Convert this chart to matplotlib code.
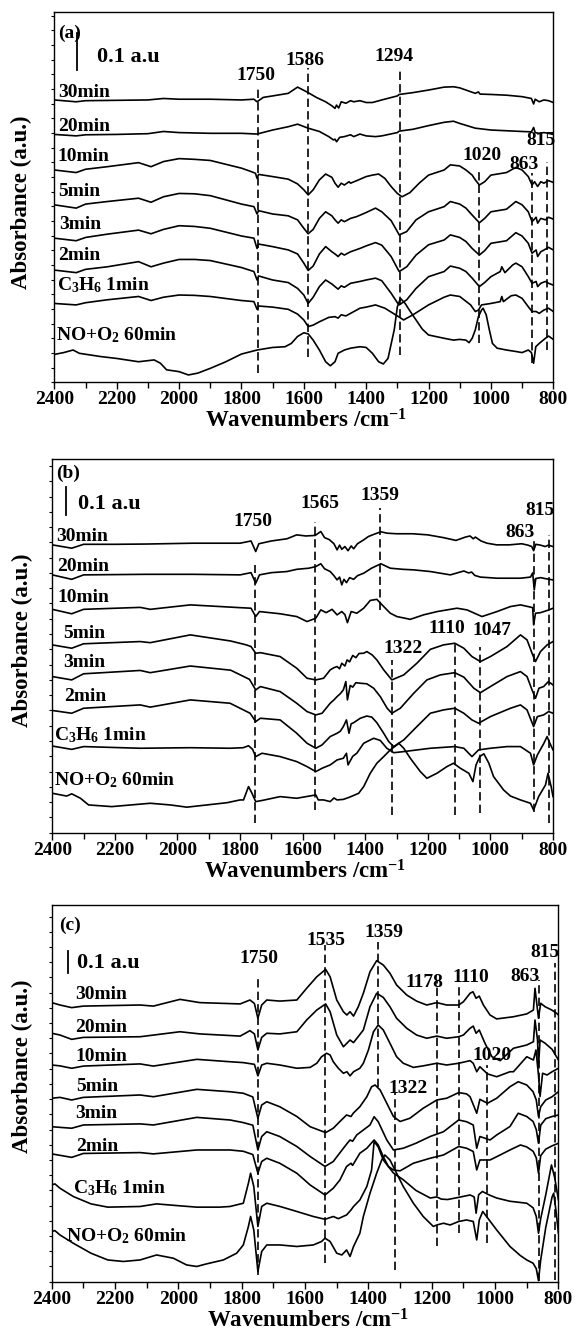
import matplotlib
matplotlib.use("Agg")
import matplotlib.pyplot as plt
from matplotlib.ticker import MultipleLocator

plt.rcParams['font.family'] = ['Liberation Serif', 'DejaVu Serif']
plt.rcParams['font.weight'] = 'bold'
plt.rcParams['mathtext.fontset'] = 'custom'
plt.rcParams['mathtext.rm'] = 'Liberation Serif:bold'
plt.rcParams['mathtext.it'] = 'Liberation Serif:bold'
plt.rcParams['mathtext.bf'] = 'Liberation Serif:bold'
plt.rcParams['axes.linewidth'] = 1.0

# spectra, top to bottom; each point = (wavenumber cm-1, absorbance in mAU, offset included)
names = ['30min', '20min', '10min', '5min', '3min', '2min',
         'C$_3$H$_6$ 1min', 'NO+O$_2$ 60min']

# ---------------- panel (a) ----------------
a_30 = [(2400,770),(2330,765),(2300,768),(2200,769),(2100,770),(2050,774),(2000,772),(1900,772),(1800,770),(1760,772),(1750,765),(1730,777),(1700,781),(1650,788),(1620,805),(1586,790),(1560,777),(1530,765),(1510,754),(1500,747),(1495,756),(1488,748),(1480,765),(1465,761),(1450,768),(1440,765),(1420,768),(1400,763),(1380,763),(1350,770),(1300,781),(1294,785),(1250,790),(1200,797),(1150,805),(1120,806),(1100,803),(1050,788),(1040,792),(1035,786),(1000,785),(950,783),(900,779),(870,774),(863,759),(858,772),(845,765),(830,770),(815,768),(800,763)]
a_20 = [(2400,676),(2330,672),(2300,675),(2200,676),(2100,678),(2050,684),(2000,681),(1900,679),(1800,679),(1750,677),(1700,688),(1650,697),(1620,704),(1586,693),(1550,684),(1520,670),(1505,661),(1500,663),(1495,656),(1485,668),(1470,670),(1450,675),(1440,670),(1420,677),(1400,672),(1370,670),(1350,672),(1300,681),(1294,685),(1250,690),(1200,700),(1150,709),(1120,712),(1100,706),(1050,693),(1000,688),(950,686),(900,684),(870,683),(863,695),(858,681),(845,679),(830,681),(815,679),(800,676)]
a_10 = [(2400,579),(2330,572),(2300,581),(2230,588),(2130,599),(2090,588),(2050,602),(2000,610),(1950,608),(1900,605),(1800,584),(1770,575),(1755,570),(1750,556),(1745,567),(1700,561),(1650,554),(1620,541),(1600,525),(1586,511),(1570,525),(1550,552),(1530,568),(1510,559),(1500,543),(1490,532),(1480,543),(1470,538),(1455,547),(1450,543),(1430,550),(1400,561),(1380,565),(1360,568),(1340,556),(1320,534),(1300,515),(1285,506),(1260,517),(1230,543),(1200,565),(1150,579),(1130,593),(1100,590),(1080,579),(1060,565),(1050,552),(1037,538),(1020,547),(1000,565),(950,572),(920,586),(900,579),(880,561),(868,538),(860,547),(850,534),(840,547),(830,543),(815,550),(800,545)]
a_5 = [(2400,484),(2330,475),(2300,486),(2230,493),(2130,502),(2090,491),(2050,506),(2000,515),(1950,514),(1900,509),(1800,486),(1760,479),(1750,459),(1745,468),(1700,459),(1650,454),(1620,443),(1600,420),(1586,405),(1570,417),(1550,447),(1530,465),(1510,454),(1500,443),(1490,434),(1480,443),(1470,438),(1450,447),(1430,452),(1400,463),(1370,475),(1350,465),(1320,441),(1300,411),(1294,402),(1270,411),(1240,443),(1200,465),(1150,479),(1130,493),(1100,486),(1080,475),(1060,456),(1037,435),(1020,447),(1000,465),(950,472),(920,493),(900,484),(880,465),(868,438),(855,450),(850,434),(840,447),(825,443),(815,450),(800,445)]
a_3 = [(2400,393),(2330,386),(2300,395),(2230,404),(2130,415),(2090,405),(2050,417),(2000,427),(1950,425),(1900,420),(1800,399),(1760,393),(1750,365),(1745,377),(1700,370),(1650,361),(1620,350),(1600,325),(1586,305),(1570,317),(1550,350),(1530,370),(1510,356),(1500,350),(1490,343),(1480,352),(1470,347),(1450,356),(1420,365),(1400,372),(1370,381),(1350,374),(1320,343),(1300,311),(1294,302),(1270,315),(1240,347),(1200,375),(1150,388),(1130,402),(1100,395),(1080,384),(1060,365),(1037,347),(1020,359),(1000,379),(950,386),(920,408),(900,399),(880,379),(868,352),(855,361),(850,343),(840,356),(825,363),(815,368),(800,361)]
a_2 = [(2400,306),(2330,299),(2300,308),(2230,315),(2130,329),(2090,315),(2050,325),(2000,335),(1950,335),(1900,332),(1800,313),(1760,302),(1750,279),(1745,290),(1700,279),(1650,272),(1620,256),(1600,238),(1586,215),(1570,232),(1550,261),(1530,279),(1510,268),(1500,261),(1490,254),(1480,263),(1470,259),(1450,270),(1420,275),(1400,279),(1370,284),(1350,277),(1320,243),(1300,217),(1294,211),(1270,225),(1240,256),(1200,288),(1150,302),(1130,317),(1100,311),(1080,302),(1060,284),(1037,261),(1020,272),(1000,288),(970,302),(965,315),(955,299),(930,320),(920,325),(900,315),(880,288),(868,270),(855,275),(850,261),(840,270),(825,275),(815,270),(800,265)]
a_c3 = [(2400,215),(2330,211),(2300,217),(2230,225),(2130,234),(2090,223),(2050,232),(2000,238),(1950,237),(1900,234),(1800,223),(1760,220),(1750,199),(1745,208),(1700,205),(1650,199),(1620,186),(1600,170),(1586,152),(1570,156),(1550,165),(1520,177),(1500,179),(1490,175),(1480,184),(1465,181),(1450,188),(1420,202),(1400,205),(1370,211),(1340,202),(1300,181),(1280,170),(1250,184),(1200,211),(1150,232),(1130,238),(1100,234),(1065,211),(1050,193),(1040,197),(1030,211),(1000,215),(970,220),(965,234),(960,220),(935,236),(920,238),(900,229),(880,206),(868,193),(855,193),(845,188),(830,197),(815,202),(800,193)]
a_no = [(2400,76),(2370,81),(2340,88),(2320,79),(2250,70),(2200,65),(2130,56),(2100,59),(2080,61),(2060,52),(2040,34),(2000,29),(1970,20),(1940,25),(1900,38),(1850,56),(1800,77),(1750,88),(1700,95),(1660,97),(1640,106),(1620,125),(1600,135),(1586,132),(1570,115),(1550,88),(1530,56),(1515,45),(1500,56),(1490,79),(1470,88),(1450,93),(1420,97),(1400,95),(1380,79),(1360,56),(1345,50),(1330,65),(1310,143),(1300,206),(1290,229),(1275,215),(1260,195),(1240,170),(1220,145),(1200,129),(1150,120),(1120,115),(1100,117),(1080,115),(1070,108),(1060,120),(1050,143),(1040,179),(1030,197),(1025,202),(1015,184),(1005,143),(995,106),(980,93),(950,88),(920,84),(900,81),(880,88),(870,81),(863,52),(856,97),(845,106),(825,120),(815,126),(800,117)]
a_peaks = ['1750', '1586', '1294', '1020', '863', '815']

# ---------------- panel (b) ----------------
b_30 = [(2400,1036),(2338,1024),(2300,1038),(2200,1038),(2100,1039),(1950,1042),(1800,1042),(1765,1050),(1750,1012),(1740,1040),(1700,1050),(1650,1058),(1619,1072),(1590,1068),(1560,1070),(1542,1084),(1530,1062),(1515,1055),(1500,1040),(1490,1018),(1482,1035),(1475,1020),(1465,1030),(1455,1015),(1445,1032),(1437,1022),(1425,1040),(1405,1054),(1390,1066),(1370,1075),(1350,1083),(1330,1078),(1300,1076),(1250,1076),(1200,1072),(1150,1062),(1110,1052),(1080,1064),(1065,1068),(1055,1058),(1048,1064),(1030,1050),(1011,1042),(980,1036),(940,1036),(900,1040),(880,1035),(868,1030),(862,1015),(855,1038),(840,1035),(825,1030),(815,1035),(800,1030)]
b_20 = [(2400,928),(2338,912),(2300,928),(2100,930),(1950,930),(1800,928),(1765,936),(1750,898),(1738,928),(1700,936),(1650,940),(1619,948),(1580,952),(1558,958),(1542,968),(1530,950),(1512,940),(1500,925),(1490,910),(1482,920),(1475,892),(1468,912),(1460,900),(1450,918),(1437,912),(1425,925),(1405,934),(1380,952),(1350,968),(1320,952),(1280,948),(1245,946),(1192,940),(1128,928),(1085,942),(1070,935),(1060,938),(1050,926),(1032,920),(979,916),(936,916),(904,916),(872,920),(865,935),(860,874),(855,915),(840,918),(813,912),(800,910)]
b_10 = [(2400,804),(2338,788),(2300,804),(2119,811),(2087,804),(1959,820),(1800,810),(1765,808),(1750,778),(1738,796),(1672,788),(1619,778),(1586,760),(1558,772),(1542,802),(1525,792),(1506,804),(1490,784),(1475,796),(1465,785),(1457,756),(1445,796),(1427,790),(1405,808),(1384,836),(1363,840),(1341,814),(1320,790),(1299,778),(1256,768),(1214,784),(1170,796),(1107,808),(1075,802),(1027,778),(979,796),(936,814),(904,820),(872,812),(865,810),(862,748),(856,790),(840,792),(813,802),(800,808)]
b_5 = [(2400,676),(2338,664),(2300,680),(2119,688),(2087,684),(1959,712),(1830,690),(1780,676),(1765,670),(1750,646),(1735,648),(1672,634),(1619,592),(1586,556),(1558,550),(1533,556),(1512,586),(1500,594),(1490,598),(1482,590),(1475,610),(1465,600),(1458,622),(1450,615),(1440,638),(1430,630),(1420,645),(1405,646),(1395,652),(1378,640),(1363,622),(1341,586),(1315,550),(1277,568),(1235,610),(1192,660),(1150,676),(1114,682),(1085,664),(1059,634),(1032,616),(1000,634),(947,670),(904,712),(883,694),(867,646),(856,616),(840,652),(819,676),(800,688)]
b_3 = [(2400,562),(2338,550),(2300,572),(2119,584),(2087,576),(1959,600),(1830,585),(1770,552),(1750,514),(1735,526),(1672,508),(1619,466),(1586,436),(1558,424),(1538,430),(1512,466),(1500,478),(1490,490),(1480,500),(1470,514),(1462,544),(1457,478),(1448,530),(1440,524),(1430,540),(1416,538),(1395,536),(1373,520),(1352,490),(1330,448),(1315,430),(1288,448),(1245,502),(1203,550),(1160,568),(1114,576),(1085,560),(1053,520),(1032,504),(1000,526),(947,562),(904,580),(883,562),(867,514),(856,484),(845,520),(830,526),(815,544),(800,532)]
b_2 = [(2400,440),(2338,430),(2300,448),(2119,460),(2087,452),(1959,478),(1832,466),(1768,430),(1750,400),(1735,412),(1672,406),(1619,358),(1586,322),(1558,304),(1538,316),(1512,346),(1490,358),(1480,365),(1470,382),(1460,406),(1452,358),(1445,392),(1437,396),(1416,412),(1395,420),(1379,416),(1363,396),(1341,358),(1325,328),(1309,310),(1277,334),(1235,382),(1192,430),(1150,442),(1114,448),(1085,430),(1059,406),(1038,394),(1000,418),(936,448),(904,460),(883,442),(862,382),(850,418),(830,424),(814,436),(800,430)]
b_c3 = [(2400,312),(2338,300),(2300,310),(2119,304),(1959,306),(1832,304),(1790,306),(1773,313),(1760,300),(1750,274),(1730,286),(1672,274),(1619,256),(1586,238),(1558,220),(1538,232),(1512,244),(1490,262),(1470,268),(1460,286),(1455,244),(1440,275),(1427,286),(1405,322),(1373,340),(1352,332),(1331,304),(1309,288),(1277,292),(1192,304),(1114,310),(1085,304),(1059,274),(1038,298),(1000,304),(947,310),(904,310),(872,286),(862,244),(850,280),(830,320),(819,346),(810,322),(800,298)]
b_no = [(2400,142),(2354,132),(2338,140),(2310,124),(2284,100),(2210,94),(2087,106),(2023,100),(1970,92),(1906,100),(1842,108),(1800,118),(1789,118),(1773,166),(1762,142),(1750,112),(1730,116),(1672,130),(1619,124),(1558,136),(1550,118),(1533,118),(1512,112),(1500,125),(1490,118),(1470,120),(1450,128),(1421,142),(1405,166),(1384,214),(1363,250),(1341,274),(1320,298),(1299,316),(1293,322),(1277,304),(1256,268),(1224,220),(1203,196),(1171,214),(1139,238),(1118,250),(1096,232),(1069,214),(1056,184),(1046,244),(1034,274),(1021,284),(1005,250),(990,202),(958,154),(936,132),(904,118),(872,106),(862,82),(846,130),(824,172),(816,214),(806,166),(800,130)]
b_peaks = ['1750', '1565', '1359', '1322', '1110', '1047', '863', '815']

# ---------------- panel (c) ----------------
c_30 = [(2400,1284),(2374,1273),(2337,1261),(2300,1268),(2121,1273),(2079,1268),(1995,1299),(1932,1284),(1805,1278),(1774,1296),(1760,1280),(1749,1212),(1737,1273),(1721,1296),(1680,1291),(1626,1296),(1595,1350),(1563,1403),(1535,1437),(1521,1403),(1500,1296),(1479,1242),(1468,1227),(1458,1242),(1447,1222),(1432,1265),(1416,1327),(1395,1426),(1374,1477),(1353,1457),(1332,1419),(1311,1365),(1279,1319),(1248,1291),(1216,1273),(1184,1284),(1153,1273),(1115,1273),(1100,1288),(1079,1327),(1070,1334),(1060,1304),(1050,1314),(1037,1273),(1016,1227),(995,1209),(942,1219),(900,1232),(879,1250),(874,1350),(863,1212),(856,1281),(842,1265),(821,1250),(806,1235),(800,1227)]
c_20 = [(2400,1143),(2374,1135),(2337,1115),(2300,1124),(2121,1127),(1995,1150),(1932,1140),(1805,1130),(1774,1155),(1760,1140),(1749,1066),(1737,1124),(1721,1143),(1680,1140),(1626,1150),(1595,1204),(1563,1250),(1535,1278),(1521,1242),(1500,1135),(1479,1081),(1468,1097),(1458,1112),(1447,1100),(1416,1158),(1395,1265),(1374,1327),(1353,1308),(1332,1265),(1311,1212),(1279,1166),(1248,1135),(1216,1120),(1184,1130),(1153,1120),(1115,1127),(1100,1135),(1079,1166),(1069,1176),(1060,1143),(1050,1158),(1032,1097),(1010,1035),(984,1017),(942,1074),(900,1089),(879,1104),(874,1204),(866,1112),(863,990),(858,1112),(842,1097),(820,1069),(800,1020)]
c_10 = [(2400,997),(2374,993),(2337,982),(2300,992),(2121,1002),(2079,992),(1942,1023),(1837,1012),(1795,1008),(1760,1000),(1749,947),(1737,997),(1721,1005),(1680,997),(1626,982),(1584,986),(1563,1005),(1548,1035),(1532,1051),(1521,1043),(1511,1012),(1495,982),(1479,959),(1468,966),(1458,947),(1447,966),(1427,982),(1416,1005),(1400,1066),(1384,1150),(1369,1181),(1353,1158),(1332,1097),(1311,1035),(1290,1005),(1258,986),(1227,993),(1184,1005),(1153,997),(1115,1005),(1079,1017),(1069,1005),(1058,966),(1048,989),(1024,956),(995,943),(953,966),(942,966),(900,1035),(879,1020),(871,1066),(863,951),(858,852),(850,959),(836,951),(820,966),(800,982)]
c_5 = [(2400,844),(2374,848),(2337,836),(2300,848),(2121,859),(2079,851),(1942,885),(1837,874),(1795,867),(1765,850),(1749,752),(1737,813),(1721,828),(1680,805),(1626,760),(1584,713),(1535,686),(1511,706),(1490,737),(1469,767),(1455,760),(1448,775),(1427,805),(1405,851),(1390,897),(1379,905),(1363,882),(1342,821),(1321,760),(1300,737),(1269,752),(1227,798),(1184,836),(1153,844),(1115,870),(1090,864),(1079,851),(1058,775),(1048,839),(1024,821),(995,844),(953,897),(927,920),(900,905),(880,874),(870,836),(863,760),(856,805),(840,836),(820,851),(800,874)]
c_3 = [(2400,713),(2337,706),(2300,721),(2121,726),(2079,721),(1942,756),(1837,744),(1795,732),(1765,720),(1749,606),(1737,668),(1721,690),(1680,668),(1626,622),(1584,576),(1537,530),(1511,553),(1479,614),(1465,640),(1458,652),(1450,646),(1437,675),(1416,698),(1395,721),(1382,759),(1369,736),(1342,652),(1321,606),(1290,614),(1250,637),(1205,668),(1163,690),(1115,744),(1090,736),(1069,721),(1058,614),(1048,668),(1016,652),(995,675),(953,714),(927,775),(900,760),(880,737),(870,700),(863,637),(856,720),(840,750),(820,760),(800,767)]
c_2 = [(2400,588),(2337,572),(2300,590),(2121,594),(2079,588),(1942,606),(1837,606),(1795,600),(1765,585),(1749,499),(1737,553),(1721,568),(1680,545),(1626,499),(1584,445),(1537,399),(1511,430),(1490,468),(1469,530),(1455,545),(1450,535),(1427,591),(1405,614),(1382,652),(1369,629),(1353,575),(1337,530),(1321,514),(1300,510),(1258,545),(1205,568),(1163,583),(1115,622),(1090,614),(1069,599),(1058,514),(1048,560),(1016,560),(995,575),(953,606),(920,629),(900,620),(880,600),(870,570),(863,499),(856,580),(840,610),(820,625),(800,637)]
c_c3 = [(2400,445),(2390,450),(2374,430),(2332,392),(2276,358),(2223,343),(2121,346),(2069,358),(1995,349),(1942,343),(1870,343),(1837,346),(1795,361),(1779,453),(1772,499),(1762,438),(1749,254),(1737,346),(1721,361),(1679,346),(1626,323),(1574,300),(1537,287),(1511,300),(1495,290),(1480,300),(1469,307),(1455,330),(1447,346),(1427,376),(1405,438),(1390,514),(1382,645),(1369,620),(1353,560),(1337,530),(1321,500),(1290,469),(1250,420),(1205,385),(1184,390),(1170,380),(1150,378),(1115,388),(1079,399),(1066,390),(1060,315),(1052,400),(1040,415),(1020,400),(995,385),(953,370),(900,361),(880,340),(870,300),(863,223),(856,290),(840,400),(822,537),(812,480),(800,376)]
c_no = [(2400,231),(2390,235),(2374,215),(2332,177),(2276,131),(2223,100),(2174,93),(2121,100),(2069,123),(2016,108),(1974,77),(1942,70),(1911,82),(1858,100),(1816,131),(1795,169),(1779,254),(1772,300),(1762,238),(1749,47),(1737,139),(1721,169),(1679,169),(1626,162),(1574,169),(1548,185),(1537,200),(1521,185),(1500,131),(1484,123),(1469,146),(1458,116),(1447,162),(1427,223),(1416,300),(1395,407),(1374,499),(1358,560),(1348,583),(1332,560),(1311,499),(1290,438),(1258,361),(1227,300),(1195,254),(1184,261),(1163,269),(1142,261),(1115,277),(1090,284),(1069,277),(1058,192),(1050,284),(1039,323),(1027,300),(995,238),(953,162),(920,120),(900,100),(880,85),(870,60),(863,5),(856,100),(840,250),(820,390),(815,407),(808,330),(800,223)]
c_peaks = ['1750', '1535', '1359', '1322', '1178', '1110', '1020', '863', '815']

# ---------------- layout ----------------
# peak marks: (line wn, line bottom, line top, text wn, text y) in data units
a_marks = [(1748,25,805,1753,841),(1588,69,857,1596,882),(1292,74,857,1311,893),
           (1038,107,584,1030,625),(868,53,571,893,600),(819,88,601,840,664)]
b_marks = [(1751,34,964,1759,1126),(1560,82,1120,1546,1192),(1352,802,1168,1353,1222),
           (1315,64,622,1280,670),(1114,64,682,1139,742),(1034,70,670,995,736),
           (862,76,1066,905,1086),(812,34,1072,842,1168)]
c_marks = [(1749,31,1411,1745,1495),(1536,85,1549,1533,1580),(1370,898,1564,1351,1618),
           (1316,54,867,1275,898),(1185,162,1388,1223,1388),(1113,223,1365,1078,1411),
           (1026,177,997,1009,1051),(860,3,1388,904,1412),(812,8,1465,842,1526)]

a_name_pos = [(2388,797),(2388,702),(2390,620),(2388,527),(2385,437),(2388,350),(2390,272),(2395,134)]
b_name_pos = [(2386,1075),(2386,964),(2384,852),(2365,724),(2365,619),(2362,496),(2396,359),(2396,197)]
c_name_pos = [(2326,1329),(2326,1181),(2326,1047),(2322,905),(2326,782),(2322,633),(2332,439),(2355,219)]

panels = [
    dict(tag='(a)', rect=[0.0944, 0.7145, 0.8661, 0.2763], ymax=1009, ystep=40,
         curves=[a_30, a_20, a_10, a_5, a_3, a_2, a_c3, a_no], peaks=a_peaks, marks=a_marks,
         name_pos=a_name_pos, tag_pos=(2388, 956), bar=(2327, 852, 952), note_pos=(2262, 893),
         ylab=(-0.065, 0.486)),
    dict(tag='(b)', rect=[0.0908, 0.3781, 0.8693, 0.2791], ymax=1345, ystep=55,
         curves=[b_30, b_20, b_10, b_5, b_3, b_2, b_c3, b_no], peaks=b_peaks, marks=b_marks,
         name_pos=b_name_pos, tag_pos=(2388, 1300), bar=(2356, 1144, 1246), note_pos=(2318, 1192),
         ylab=(-0.0605, 0.516)),
    dict(tag='(c)', rect=[0.0898, 0.0428, 0.8797, 0.2813], ymax=1733, ystep=70,
         curves=[c_30, c_20, c_10, c_5, c_3, c_2, c_c3, c_no], peaks=c_peaks, marks=c_marks,
         name_pos=c_name_pos, tag_pos=(2377, 1649), bar=(2348, 1421, 1521), note_pos=(2319, 1480),
         ylab=(-0.0586, 0.571)),
]

fig = plt.figure(figsize=(5.76, 13.39), dpi=100)

for p in panels:
    ax = fig.add_axes(p['rect'])
    for c in p['curves']:
        wn, ab = zip(*c)
        ax.plot(wn, ab, color='black', lw=1.2, solid_joinstyle='round')
    for text, (lx, y0, y1, tx, ty) in zip(p['peaks'], p['marks']):
        ax.plot([lx, lx], [y0, y1], color='black', lw=1.2, dashes=(5, 2.5))
        ax.text(tx, ty, text, ha='center', va='center_baseline', fontsize=14)
    for name, (x, y) in zip(names, p['name_pos']):
        ax.text(x, y, name, ha='left', va='center_baseline', fontsize=14)
    ax.text(*p['tag_pos'], p['tag'], ha='left', va='center_baseline', fontsize=14)
    bx, b0, b1 = p['bar']
    ax.plot([bx, bx], [b0, b1], color='black', lw=1.3)
    ax.text(*p['note_pos'], '0.1 a.u', ha='left', va='center_baseline', fontsize=16)

    ax.set_xlim(2400, 800)
    ax.set_ylim(0, p['ymax'])
    ax.xaxis.set_major_locator(MultipleLocator(200))
    ax.xaxis.set_minor_locator(MultipleLocator(100))
    ax.yaxis.set_major_locator(MultipleLocator(p['ystep']))
    ax.tick_params(axis='x', which='major', direction='out', length=5, width=1,
                   pad=1.5, labelsize=14)
    ax.tick_params(axis='x', which='minor', direction='out', length=4, width=1)
    ax.tick_params(axis='y', which='both', direction='out', length=2.5, width=0.8,
                   labelleft=False)
    ax.text(0.505, -0.122, 'Wavenumbers /cm$^{-1}$', transform=ax.transAxes,
            ha='center', va='baseline', fontsize=16.5)
    ax.text(p['ylab'][0], p['ylab'][1], 'Absorbance (a.u.)', transform=ax.transAxes,
            rotation=90, ha='center', va='center', fontsize=16.5)

fig.savefig('out.png', dpi=100)
